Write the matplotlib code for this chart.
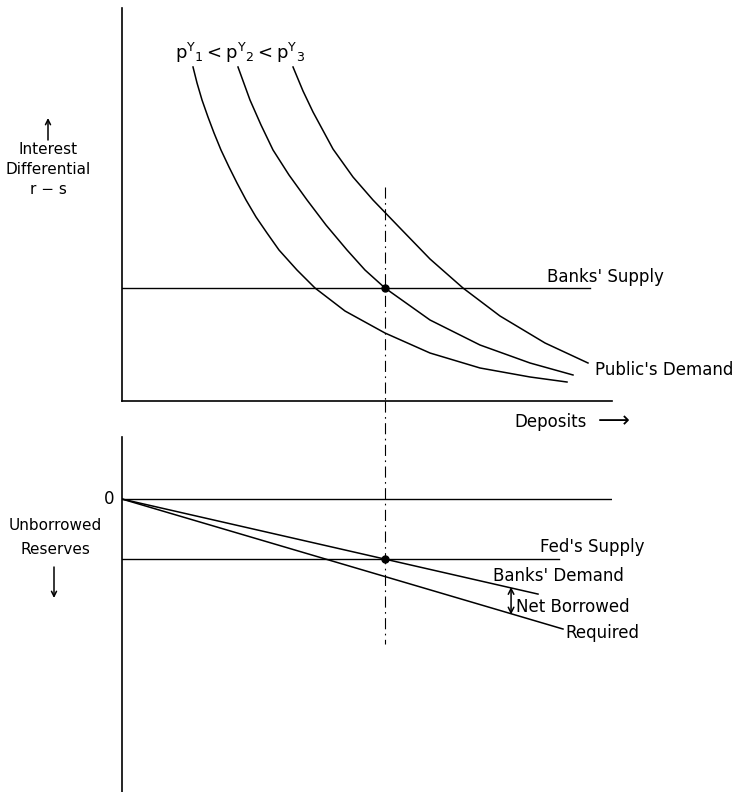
import matplotlib.pyplot as plt

plt.rcParams['font.family'] = 'DejaVu Sans'
plt.rcParams['mathtext.fontset'] = 'dejavusans'
plt.rcParams['mathtext.default'] = 'regular'

# public's demand curves (deposits, interest differential)
dep_1 = [14.49, 15.31, 16.33, 17.55, 18.78, 20.20, 21.84, 23.47, 25.31, 27.35,
         29.59, 32.04, 35.71, 39.39, 45.51, 53.67, 62.86, 73.06, 83.27, 90.82]
rate_1 = [84.99, 80.92, 76.59, 72.26, 68.19, 63.87, 59.54, 55.47, 51.15, 46.82,
          42.75, 38.42, 33.33, 28.75, 22.90, 17.30, 12.21, 8.40, 6.11, 4.83]
dep_2 = [23.67, 26.12, 28.37, 30.82, 34.08, 37.76, 41.63, 45.92, 49.59, 53.67,
         62.86, 73.06, 83.27, 92.04]
rate_2 = [84.99, 76.59, 70.23, 63.87, 57.51, 51.15, 44.78, 38.42, 33.33, 28.75,
          20.61, 14.25, 9.67, 6.62]
dep_3 = [34.90, 36.94, 38.98, 41.02, 43.06, 47.14, 51.22, 56.73, 62.86, 69.59,
         77.14, 86.33, 95.10]
rate_3 = [84.99, 78.88, 73.54, 68.83, 64.12, 57.00, 51.15, 44.02, 36.13, 28.75,
          21.63, 14.76, 9.67]

banks_supply = 28.75
equil_dep = 53.67

# lower panel: unborrowed reserves (downwards positive)
fed_supply = 15.3
banks_demand_x = [0, 84.9]
banks_demand_y = [0, 24.2]
required_x = [0, 90.0]
required_y = [0, 33.1]
net_x = 79.4
net_top, net_bot = 22.4, 29.4

fig = plt.figure(figsize=(7.34, 7.92), dpi=100)
ax1 = fig.add_axes([122 / 734, 1 - 401 / 792, 490 / 734, 393 / 792])
ax2 = fig.add_axes([122 / 734, 0, 490 / 734, 355 / 792])

lw = 1.1
k = 'black'
dashdot = (0, (10, 4, 1.5, 4))

# ---- top panel
ax1.plot(dep_1, rate_1, color=k, lw=lw)
ax1.plot(dep_2, rate_2, color=k, lw=lw)
ax1.plot(dep_3, rate_3, color=k, lw=lw)
ax1.plot([0, 95.5], [banks_supply, banks_supply], color=k, lw=lw * 0.9)
ax1.plot([equil_dep, equil_dep], [54.5, 0], color=k, lw=0.8,
         linestyle=dashdot, clip_on=False)
ax1.plot(equil_dep, banks_supply, 'o', color=k, ms=5)
ax1.set_xlim(0, 100)
ax1.set_ylim(0, 100)
ax1.spines[['top', 'right']].set_visible(False)
ax1.spines[['left', 'bottom']].set_linewidth(1.2)
ax1.set_xticks([])
ax1.set_yticks([])

fs = 12
ax1.text(10.8, 88.5, r'$p^{Y}{}_{1} < p^{Y}{}_{2} < p^{Y}{}_{3}$', fontsize=fs + 1,
         va='center', ha='left')
ax1.text(86.7, 31.6, "Banks' Supply", fontsize=fs, va='center')
ax1.text(96.5, 7.9, "Public's Demand", fontsize=fs, va='center')
ax1.text(80.0, -5.3, 'Deposits', fontsize=fs, va='center', clip_on=False)
ax1.text(97.0, -5.1, '\u27f6', fontsize=fs + 4, va='center', clip_on=False)

# ---- bottom panel
ax2.plot([0, 100], [0, 0], color=k, lw=lw * 0.9)
ax2.plot([0, 89.2], [fed_supply, fed_supply], color=k, lw=lw * 0.9)
ax2.plot(banks_demand_x, banks_demand_y, color=k, lw=lw)
ax2.plot(required_x, required_y, color=k, lw=lw)
ax2.plot([equil_dep, equil_dep], [-24.9, 37.0], color=k, lw=0.8,
         linestyle=dashdot, clip_on=False)
ax2.plot(equil_dep, fed_supply, 'o', color=k, ms=5)
ax2.annotate('', xy=(net_x, net_top), xytext=(net_x, net_bot),
             arrowprops=dict(arrowstyle='<->', color=k, lw=1.1,
                             shrinkA=0, shrinkB=0, mutation_scale=10))
ax2.set_xlim(0, 100)
ax2.set_ylim(74.6, -15.8)
ax2.spines[['top', 'right', 'bottom']].set_visible(False)
ax2.spines['left'].set_linewidth(1.2)
ax2.set_xticks([])
ax2.set_yticks([])

ax2.text(-1.6, 0, '0', fontsize=fs, ha='right', va='center')
ax2.text(85.3, 12.2, "Fed's Supply", fontsize=fs, va='center')
ax2.text(75.7, 19.6, "Banks' Demand", fontsize=fs, va='center')
ax2.text(80.4, 27.5, 'Net Borrowed', fontsize=fs, va='center')
ax2.text(90.4, 34.1, 'Required', fontsize=fs, va='center')

# ---- axis captions on the left
def fx(px):
    return px / 734

def fy(py):
    return 1 - py / 792

arr = dict(arrowstyle='->', color=k, lw=1.1, shrinkA=0, shrinkB=0, mutation_scale=9)
fig.add_artist(plt.Annotation('', xy=(fx(48), fy(118)), xytext=(fx(48), fy(140)),
                              xycoords='figure fraction', arrowprops=arr))
fig.text(fx(48), fy(150), 'Interest', fontsize=fs - 1, ha='center', va='center')
fig.text(fx(48), fy(169), 'Differential', fontsize=fs - 1, ha='center', va='center')
fig.text(fx(48), fy(189), 'r \u2212 s', fontsize=fs - 1, ha='center', va='center')
fig.text(fx(55), fy(525), 'Unborrowed', fontsize=fs - 1, ha='center', va='center')
fig.text(fx(55), fy(550), 'Reserves', fontsize=fs - 1, ha='center', va='center')
fig.add_artist(plt.Annotation('', xy=(fx(54), fy(598)), xytext=(fx(54), fy(567)),
                              xycoords='figure fraction', arrowprops=arr))

fig.savefig('out.png', dpi=100)
